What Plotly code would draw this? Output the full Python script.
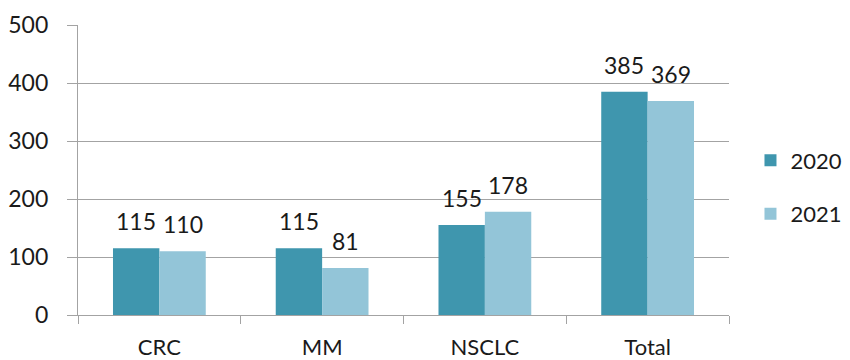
import plotly.graph_objects as go

# Chart data
categories = ["CRC", "MM", "NSCLC", "Total"]
series_names = ["2020", "2021"]
values_2020 = [115, 115, 155, 385]
values_2021 = [110, 81, 178, 369]

colors = ["#3F96AE", "#93C5D8"]
font_family = "Lato, 'Open Sans', sans-serif"
text_color = "#1A1A1A"
grid_color = "#A3A3A3"

fig = go.Figure()
for name, vals, col in zip(series_names, [values_2020, values_2021], colors):
    fig.add_trace(go.Bar(
        name=name,
        x=categories,
        y=vals,
        marker=dict(color=col, line=dict(width=0)),
        legendgroup=name,
    ))

# Value labels above each bar
bar_px = 46.5
for vals, shift in [(values_2020, -bar_px / 2), (values_2021, bar_px / 2)]:
    for cat, v in zip(categories, vals):
        fig.add_annotation(
            x=cat, y=v, text=str(v), showarrow=False,
            xshift=shift, yshift=27, yanchor="middle",
            font=dict(family=font_family, size=23, color=text_color),
        )

fig.update_layout(
    width=850, height=360,
    margin=dict(l=78, r=121, t=25, b=45, autoexpand=False),
    paper_bgcolor="white", plot_bgcolor="white",
    barmode="group", bargap=0.43, bargroupgap=0,
    font=dict(family=font_family, size=22, color=text_color),
    showlegend=True,
    legend=dict(
        x=1.033, y=0.44, xanchor="left", yanchor="middle",
        traceorder="grouped", tracegroupgap=22,
        font=dict(family=font_family, size=22, color=text_color),
        bgcolor="rgba(0,0,0,0)",
    ),
)

fig.update_xaxes(
    automargin=False,
    showline=True, linecolor=grid_color, linewidth=1.3,
    ticks="outside", tickson="boundaries", ticklen=8,
    tickcolor=grid_color, tickwidth=1.3,
    ticklabelstandoff=12,
    showgrid=False,
    tickfont=dict(family=font_family, size=22, color=text_color),
)
fig.update_yaxes(
    automargin=False,
    range=[0, 500], dtick=100, tick0=0,
    showline=True, linecolor=grid_color, linewidth=1.3,
    showgrid=True, gridcolor=grid_color, gridwidth=1.3,
    zeroline=False,
    ticks="outside", ticklen=10, tickcolor=grid_color, tickwidth=1.3,
    ticklabelstandoff=14,
    tickfont=dict(family=font_family, size=23, color=text_color),
)

fig.write_html("out.html")
